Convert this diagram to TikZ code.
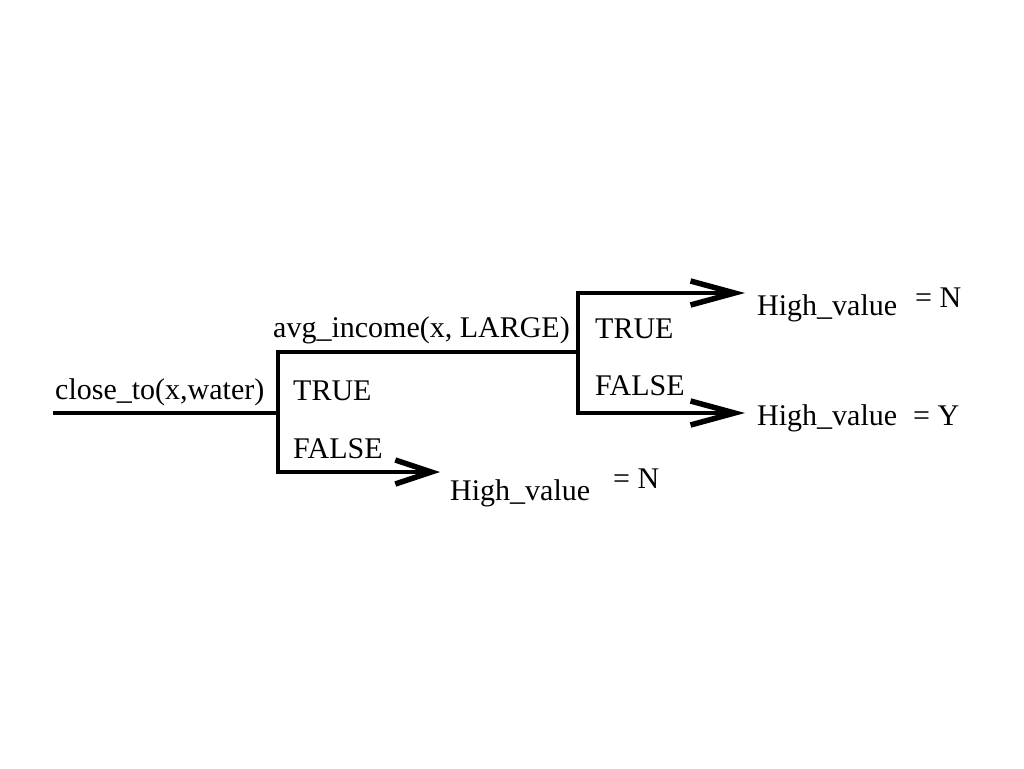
\documentclass[tikz,border=0pt]{standalone}
\usepackage{fontspec}
\setmainfont{Liberation Serif}
\usetikzlibrary{arrows.meta}
\begin{document}
\begin{tikzpicture}[x=1pt,y=-1pt,
  line/.style={line width=4pt, line cap=rect},
  arr/.style={line width=4pt, -{Straight Barb[length=44pt,width=24pt,line width=5.5pt]}},
  arrshort/.style={line width=4pt, -{Straight Barb[length=36pt,width=24pt,line width=5.5pt]}},
  lbl/.style={anchor=base west, inner sep=0pt, font=\fontsize{30}{36}\selectfont}]
\useasboundingbox (0,0) rectangle (1024,768);
% junction coordinates
\coordinate (root) at (55,413);
\coordinate (j1) at (278,413);
\coordinate (j1t) at (278,352);
\coordinate (j1b) at (278,472);
\coordinate (j2) at (578,352);
\coordinate (j2t) at (578,293);
\coordinate (j2b) at (578,413);
\coordinate (t1) at (745,293);
\coordinate (t2) at (745,413);
\coordinate (t3) at (440,472);
% connectors
\draw[line] (root) -- (j1);
\draw[line] (j1t) -- (j1b);
\draw[line] (j1t) -- (j2);
\draw[line] (j2t) -- (j2b);
\draw[arr] (j2t) -- (t1);
\draw[arr] (j2b) -- (t2);
\draw[arrshort] (j1b) -- (t3);
% labels
\node[lbl] (c1) at (55,399) {close\_to(x,water)};
\node[lbl] (c2) at (273,337) {avg\_income(x, LARGE)};
\node[lbl] (tr1) at (293,400) {TRUE};
\node[lbl] (fa1) at (293,458) {FALSE};
\node[lbl] (tr2) at (595,338) {TRUE};
\node[lbl] (fa2) at (595,395) {FALSE};
\node[lbl] (hv1) at (757,315) {High\_value};
\node[lbl] (eq1) at (915,307) {= N};
\node[lbl] (hv2) at (757,425) {High\_value};
\node[lbl] (eq2) at (913,425) {= Y};
\node[lbl] (hv3) at (450,500) {High\_value};
\node[lbl] (eq3) at (613,488) {= N};
\end{tikzpicture}
\end{document}
